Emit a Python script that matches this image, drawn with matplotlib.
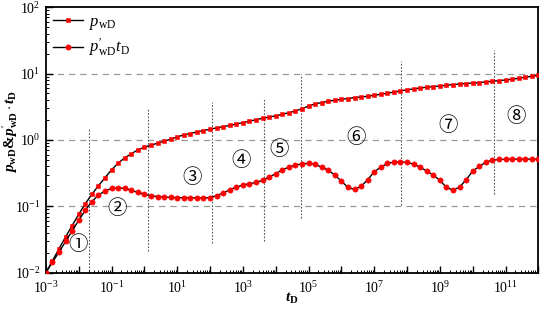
import numpy as np
import matplotlib
matplotlib.use('Agg')
import matplotlib.pyplot as plt
from matplotlib.ticker import LogLocator, FuncFormatter, NullFormatter

plt.rcParams['font.family'] = 'Liberation Serif'
plt.rcParams['mathtext.fontset'] = 'custom'
plt.rcParams['mathtext.rm'] = 'Liberation Serif'
plt.rcParams['mathtext.it'] = 'Liberation Serif:italic'
plt.rcParams['mathtext.bf'] = 'Liberation Serif:bold'
plt.rcParams['mathtext.sf'] = 'Liberation Serif:bold:italic'

# log10(tD) of the sampled points (one marker each 0.2 decade)
log_tD = [-3.0, -2.8, -2.6, -2.4, -2.2, -2.0, -1.8, -1.6, -1.4, -1.2,
          -1.0, -0.8, -0.6, -0.4, -0.2, 0.0, 0.2, 0.4, 0.6, 0.8,
          1.0, 1.2, 1.4, 1.6, 1.8, 2.0, 2.2, 2.4, 2.6, 2.8,
          3.0, 3.2, 3.4, 3.6, 3.8, 4.0, 4.2, 4.4, 4.6, 4.8,
          5.0, 5.2, 5.4, 5.6, 5.8, 6.0, 6.2, 6.4, 6.6, 6.8,
          7.0, 7.2, 7.4, 7.6, 7.8, 8.0, 8.2, 8.4, 8.6, 8.8,
          9.0, 9.2, 9.4, 9.6, 9.8, 10.0, 10.2, 10.4, 10.6, 10.8,
          11.0, 11.2, 11.4, 11.6, 11.8, 12.0]

# log10(pwD)
log_pwD = [-2.0, -1.82, -1.64, -1.46, -1.29, -1.12, -0.96, -0.82, -0.69, -0.57,
           -0.45, -0.35, -0.27, -0.21, -0.15, -0.11, -0.08, -0.05, -0.02, 0.01,
           0.045, 0.075, 0.096, 0.12, 0.141, 0.161, 0.18, 0.20, 0.218, 0.24,
           0.26, 0.28, 0.305, 0.325, 0.345, 0.362, 0.385, 0.41, 0.435, 0.47,
           0.51, 0.543, 0.562, 0.582, 0.597, 0.612, 0.623, 0.637, 0.647, 0.657,
           0.672, 0.687, 0.702, 0.72, 0.737, 0.755, 0.767, 0.782, 0.793, 0.803,
           0.812, 0.823, 0.833, 0.842, 0.849, 0.857, 0.864, 0.873, 0.883, 0.893,
           0.902, 0.913, 0.928, 0.943, 0.958, 0.97]

# log10(p'wD * tD)
log_dpwD = [-2.0, -1.84, -1.69, -1.53, -1.37, -1.21, -1.06, -0.93, -0.83, -0.77,
            -0.73, -0.72, -0.73, -0.76, -0.79, -0.82, -0.84, -0.855, -0.86, -0.865,
            -0.87, -0.87, -0.873, -0.873, -0.873, -0.87, -0.84, -0.80, -0.75, -0.71,
            -0.68, -0.66, -0.64, -0.61, -0.56, -0.51, -0.45, -0.41, -0.38, -0.36,
            -0.355, -0.37, -0.41, -0.456, -0.53, -0.62, -0.716, -0.746, -0.70, -0.60,
            -0.48, -0.41, -0.355, -0.335, -0.33, -0.34, -0.365, -0.41, -0.47, -0.53,
            -0.61, -0.716, -0.756, -0.71, -0.60, -0.47, -0.40, -0.335, -0.305, -0.295,
            -0.292, -0.29, -0.29, -0.29, -0.29, -0.29]

# flow-regime boundaries: log10(tD), log10 of top and bottom
vline_x = [-1.70, 0.10, 2.05, 3.65, 4.77, 7.81, 10.66]
vline_top = [0.18, 0.47, 0.57, 0.61, 1.0, 1.19, 1.35]
vline_bot = [-1.97, -1.68, -1.56, -1.53, -1.18, -0.98, -0.81]

# regime labels: text, log10(tD), log10(y)
regime_txt = ['①', '②', '③', '④', '⑤', '⑥', '⑦', '⑧']
regime_x = [-2.03, -0.83, 1.44, 2.95, 4.11, 6.44, 9.25, 11.31]
regime_y = [-1.57, -1.04, -0.56, -0.31, -0.14, 0.036, 0.22, 0.356]

tD = 10.0 ** np.array(log_tD)
pwD = 10.0 ** np.array(log_pwD)
dpwD = 10.0 ** np.array(log_dpwD)

fig = plt.figure(figsize=(5.4, 3.09), dpi=100)
ax = fig.add_axes([0.085, 0.1175, 0.912, 0.8595])

for yg in [1e-1, 1e0, 1e1]:
    ax.axhline(yg, color='#999999', lw=0.9, ls=(0, (5, 4)), zorder=1)
for xv, yt, yb in zip(vline_x, vline_top, vline_bot):
    ax.plot([10 ** xv, 10 ** xv], [10 ** yb, 10 ** yt], color='#555555', lw=0.8,
            ls=(0, (1.5, 1.5)), zorder=1)

ax.plot(tD, pwD, '-', color='k', lw=1.0, marker='s', ms=3.4, mfc='red', mec='red',
        mew=0.4, label=r'$p_{\mathrm{wD}}$', zorder=3)
ax.plot(tD, dpwD, '-', color='k', lw=1.0, marker='o', ms=3.8, mfc='red', mec='red',
        mew=0.4, label=r"$p^{\prime}_{\mathrm{wD}}t_{\mathrm{D}}$", zorder=3)

for s, lx, ly in zip(regime_txt, regime_x, regime_y):
    ax.text(10 ** lx, 10 ** ly, s, ha='center', va='center', fontsize=14,
            family=['Noto Sans CJK SC', 'DejaVu Sans'])

ax.set_xscale('log')
ax.set_yscale('log')
ax.set_xlim(1e-3, 1e12)
ax.set_ylim(1e-2, 1e2)

ax.xaxis.set_major_locator(LogLocator(base=10, numticks=30))
ax.xaxis.set_minor_locator(LogLocator(base=10, subs=np.arange(2, 10), numticks=200))
ax.xaxis.set_major_formatter(FuncFormatter(
    lambda v, p: r'$10^{%d}$' % round(np.log10(v)) if round(np.log10(v)) % 2 else ''))
ax.xaxis.set_minor_formatter(NullFormatter())
ax.yaxis.set_major_locator(LogLocator(base=10, numticks=10))
ax.yaxis.set_minor_locator(LogLocator(base=10, subs=np.arange(2, 10), numticks=100))
ax.yaxis.set_major_formatter(FuncFormatter(lambda v, p: r'$10^{%d}$' % round(np.log10(v))))
ax.yaxis.set_minor_formatter(NullFormatter())

ax.tick_params(which='both', direction='in', top=False, right=False, labelsize=10)
ax.tick_params(which='major', length=5, width=1)
ax.tick_params(which='minor', length=2.5, width=0.7)
ax.tick_params(axis='x', pad=5)
ax.tick_params(axis='y', pad=4)
for sp in ax.spines.values():
    sp.set_linewidth(1.3)

ax.set_xlabel(r'$\mathsf{t}_{\mathbf{D}}$', fontsize=11)
ax.xaxis.set_label_coords(0.5, -0.068)
ax.set_ylabel(r"$\mathsf{p}_{\mathbf{wD}}$&$\mathsf{p}^{\prime}_{\mathbf{wD}}\cdot\mathsf{t}_{\mathbf{D}}$",
              fontsize=11, fontweight='bold')
ax.yaxis.set_label_coords(-0.052, 0.53)

leg = ax.legend(loc='upper left', fontsize=12, frameon=False, numpoints=1,
                handlelength=1.8, handletextpad=0.4, borderaxespad=0.1,
                borderpad=0.3, labelspacing=0.3)

fig.savefig('out.png', dpi=100)
